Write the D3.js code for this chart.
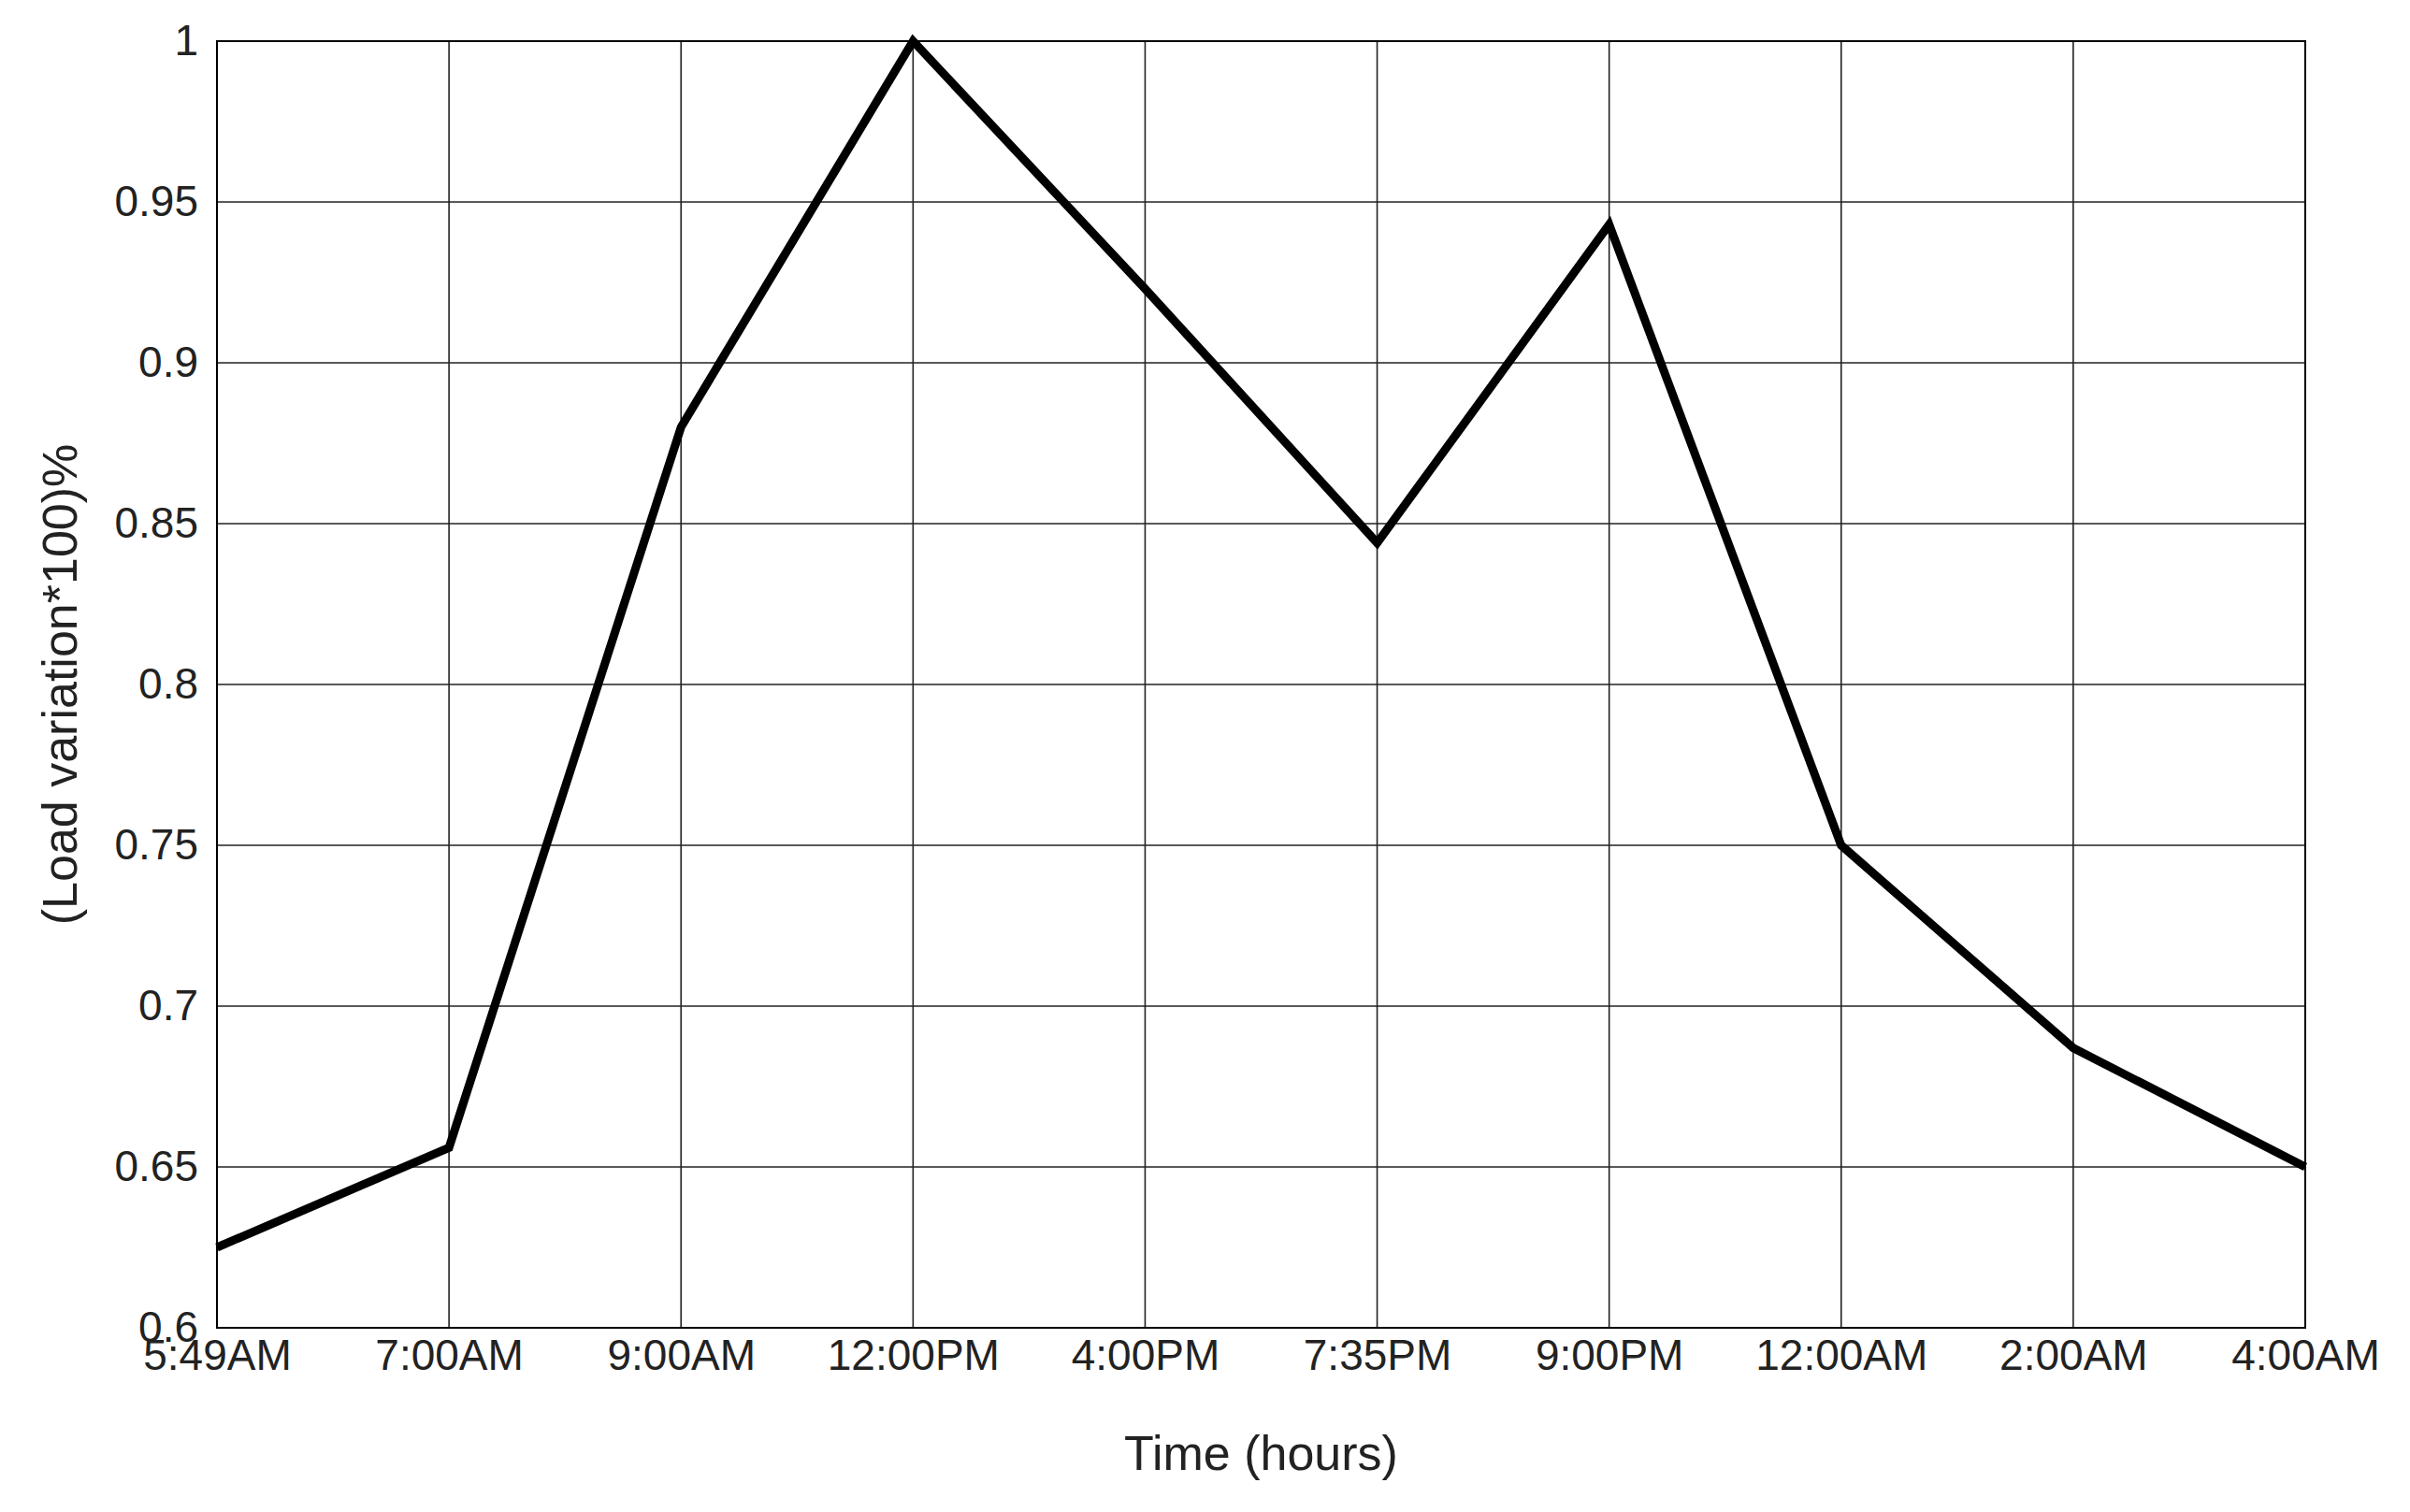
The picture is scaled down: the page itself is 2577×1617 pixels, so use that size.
<!DOCTYPE html>
<html><head><meta charset="utf-8">
<script src="https://cdn.jsdelivr.net/npm/d3@7/dist/d3.min.js"></script>
<style>body{margin:0;background:#fff}</style></head>
<body><svg id="c" width="2577" height="1617"></svg>
<script>
const categories=["5:49AM","7:00AM","9:00AM","12:00PM","4:00PM","7:35PM","9:00PM","12:00AM","2:00AM","4:00AM"];
const values=[0.625,0.656,0.88,1.0,0.923,0.844,0.943,0.75,0.687,0.65];
const yTicks=[0.6,0.65,0.7,0.75,0.8,0.85,0.9,0.95,1];
const yTickLabels=["0.6","0.65","0.7","0.75","0.8","0.85","0.9","0.95","1"];
const L=232,R=2465,T=44,B=1420;
const svg=d3.select("#c");
const x=d3.scalePoint().domain(categories).range([L,R]);
const y=d3.scaleLinear().domain([0.6,1]).range([B,T]);
const font="Liberation Sans, Arial, sans-serif";
const g=svg.append("g");
g.selectAll(".vg").data(categories).enter().append("line")
 .attr("x1",d=>x(d)).attr("x2",d=>x(d)).attr("y1",T).attr("y2",B)
 .attr("stroke","#222").attr("stroke-width",1.6);
g.selectAll(".hg").data(yTicks).enter().append("line")
 .attr("x1",L).attr("x2",R).attr("y1",d=>y(d)).attr("y2",d=>y(d))
 .attr("stroke","#222").attr("stroke-width",1.6);
svg.append("rect").attr("x",L).attr("y",T).attr("width",R-L).attr("height",B-T)
 .attr("fill","none").attr("stroke","#000").attr("stroke-width",2);
const xa=svg.append("g").attr("transform",`translate(0,${B})`).call(d3.axisBottom(x).tickSize(0).tickPadding(12));
xa.select(".domain").remove();
xa.selectAll("text").attr("font-family",font).attr("font-size",46).attr("fill","#222");
const ya=svg.append("g").attr("transform",`translate(${L},0)`).call(d3.axisLeft(y).tickValues(yTicks).tickFormat((d,i)=>yTickLabels[i]).tickSize(0).tickPadding(20));
ya.select(".domain").remove();
ya.selectAll("text").attr("font-family",font).attr("font-size",46).attr("fill","#222");
svg.append("path").datum(values).attr("fill","none").attr("stroke","#000").attr("stroke-width",9)
 .attr("stroke-linejoin","miter")
 .attr("d",d3.line().x((d,i)=>x(categories[i])).y(d=>y(d)));
svg.append("text").attr("x",(L+R)/2).attr("y",1572).attr("text-anchor","middle")
 .attr("font-family",font).attr("font-size",52).attr("fill","#222").text("Time (hours)");
svg.append("text").attr("transform",`translate(82,${(T+B)/2}) rotate(-90)`).attr("text-anchor","middle")
 .attr("font-family",font).attr("font-size",52).attr("fill","#222").text("(Load variation*100)%");
</script></body></html>
